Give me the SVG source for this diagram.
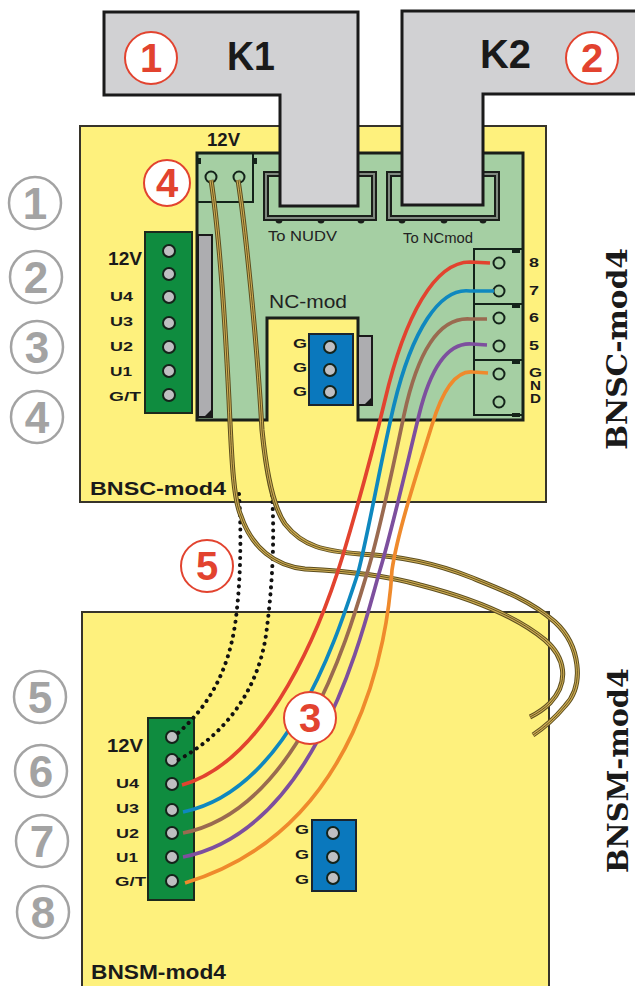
<svg xmlns="http://www.w3.org/2000/svg" width="635" height="986" viewBox="0 0 635 986">
<style>
text{font-family:"Liberation Sans",Arial,sans-serif;font-weight:700;fill:#1a1a1a}
.board{fill:#fef17d;stroke:#37342a;stroke-width:2}
.pcb{fill:#a5cfa3;stroke:#1a1f1a;stroke-width:3}
.bar{fill:#0f8c3f;stroke:#1c2a1c;stroke-width:2}
.blue{fill:#0a78bd;stroke:#1a2530;stroke-width:2}
.hole{fill:#bfbfc2;stroke:#14231a;stroke-width:2}
.term{fill:none;stroke:#14231a;stroke-width:2}
.gbar{fill:#adadb0;stroke:#1a1a1a;stroke-width:2}
.key{fill:#d1d1d3;stroke:#1a1a1a;stroke-width:3}
.hdr{fill:#a5cfa3;stroke:#1a1f1a;stroke-width:6}
.hdr2{fill:none;stroke:#808a80;stroke-width:2}
.lbl{font-size:12px}
.thin{font-weight:400;fill:#222}
.rc{fill:#fff;stroke:#e2432f;stroke-width:2}
.rt{fill:#e2432f;font-size:40px;text-anchor:middle}
.gc{fill:#fff;stroke:#a3a3a3;stroke-width:2.5}
.gt{fill:#a3a3a3;font-size:44px;text-anchor:middle}
.w{fill:none;stroke-width:3.7;stroke-linecap:butt}
.t1{fill:none;stroke:#5c4d1e;stroke-width:5}
.t2{fill:none;stroke:#cfae55;stroke-width:3}
.t3{fill:none;stroke:#4a3c14;stroke-width:.8}
.dot{fill:none;stroke:#111;stroke-width:4;stroke-linecap:round;stroke-dasharray:.1 7}
.side{font-family:"DejaVu Serif",serif;font-size:28px}
</style>
<defs>
<path id="tw1" d="M211 180C218 225 224 300 229 400C232 470 234 500 241 516C252 548 275 566 305 569C345 571 385 575 420 585C470 598 515 615 545 640C565 657 570 682 550 703C545 708 538 713 530 717"/>
<path id="tw2" d="M238 180C245 225 257 340 262 430C266 470 272 505 285 524C303 547 325 551 360 554C400 556 435 563 470 577C500 589 530 600 555 622C580 645 585 685 565 706C555 718 545 727 533 735"/>
</defs>
<rect width="635" height="986" fill="#fff"/>
<g id="board-top"><rect class="board" x="80" y="126" width="466" height="376"/></g>
<g id="board-bottom"><rect class="board" x="82" y="612" width="467" height="376"/></g>
<g id="pcb"><path class="pcb" d="M197 153H523V420H358V318H267V420H197Z"/></g>
<g id="bar-left"><rect class="gbar" x="198" y="235" width="14" height="182"/><path d="M204 417L211 410V417Z" fill="#1a1a1a"/></g>
<g id="bar-nc"><rect class="gbar" x="358" y="336" width="14" height="69"/><path d="M364 405L371 398V405Z" fill="#1a1a1a"/></g>
<g id="conn-12v">
<rect class="term" x="197" y="153" width="56" height="49" stroke-width="3"/>
<rect x="197" y="158" width="4" height="6" fill="#14231a"/><rect x="253" y="158" width="4" height="6" fill="#14231a"/>
<circle class="term" cx="211" cy="177" r="5.5"/><circle class="term" cx="239" cy="177" r="5.5"/>
<text x="207" y="146" font-size="18" textLength="33" lengthAdjust="spacingAndGlyphs">12V</text>
</g>
<g id="hdr-nudv">
<g fill="#1a1f1a"><circle cx="279" cy="220" r="3.5"/><circle cx="321" cy="220" r="3.5"/><circle cx="361" cy="220" r="3.5"/></g>
<rect class="hdr" x="266" y="174" width="108" height="44"/><rect class="hdr2" x="266" y="174" width="108" height="44"/>
<text class="thin" x="268" y="241" font-size="14" textLength="69" lengthAdjust="spacingAndGlyphs">To NUDV</text>
</g>
<g id="hdr-ncmod">
<g fill="#1a1f1a"><circle cx="402" cy="220" r="3.5"/><circle cx="444" cy="220" r="3.5"/><circle cx="483" cy="220" r="3.5"/></g>
<rect class="hdr" x="389" y="174" width="108" height="44"/><rect class="hdr2" x="389" y="174" width="108" height="44"/>
<text class="thin" x="403" y="243" font-size="14" textLength="70" lengthAdjust="spacingAndGlyphs">To NCmod</text>
</g>
<g id="key-k1"><path class="key" d="M104 12H358V206H280V95H104Z"/><text x="227" y="70" font-size="41" textLength="48" lengthAdjust="spacingAndGlyphs">K1</text></g>
<g id="key-k2"><path class="key" d="M635 11H402V205H483V94H635"/><text x="480" y="68" font-size="41" textLength="51" lengthAdjust="spacingAndGlyphs">K2</text></g>
<g id="terminals">
<rect class="term" x="474" y="249" width="49" height="166"/><path class="term" d="M474 304H523M474 360H523"/>
<g fill="#14231a"><rect x="512" y="249" width="8" height="4"/><rect x="512" y="304" width="8" height="4"/><rect x="512" y="360" width="8" height="4"/><rect x="512" y="413" width="8" height="4"/></g>
<circle class="term" cx="499" cy="263" r="5.5"/><circle class="term" cx="499" cy="291" r="5.5"/><circle class="term" cx="499" cy="318" r="5.5"/><circle class="term" cx="499" cy="346" r="5.5"/><circle class="term" cx="499" cy="374" r="5.5"/><circle class="term" cx="499" cy="402" r="5.5"/>
<g class="lbl" font-size="11">
<text x="529" y="267" textLength="10" lengthAdjust="spacingAndGlyphs">8</text>
<text x="529" y="295" textLength="10" lengthAdjust="spacingAndGlyphs">7</text>
<text x="529" y="322" textLength="10" lengthAdjust="spacingAndGlyphs">6</text>
<text x="529" y="350" textLength="10" lengthAdjust="spacingAndGlyphs">5</text>
<text x="529" y="377" textLength="13" lengthAdjust="spacingAndGlyphs">G</text>
<text x="530" y="390" textLength="11" lengthAdjust="spacingAndGlyphs">N</text>
<text x="530" y="403" textLength="11" lengthAdjust="spacingAndGlyphs">D</text>
</g>
</g>
<g id="strip-top">
<rect class="bar" x="145" y="232" width="47" height="181"/>
<circle class="hole" cx="169" cy="251" r="6"/><circle class="hole" cx="169" cy="274" r="6"/><circle class="hole" cx="169" cy="297" r="6"/><circle class="hole" cx="169" cy="323" r="6"/><circle class="hole" cx="169" cy="347" r="6"/><circle class="hole" cx="169" cy="371" r="6"/><circle class="hole" cx="169" cy="395" r="6"/>
<text x="108" y="265" font-size="18" textLength="34" lengthAdjust="spacingAndGlyphs">12V</text>
<text class="lbl" x="110" y="301" textLength="23" lengthAdjust="spacingAndGlyphs">U4</text>
<text class="lbl" x="110" y="326" textLength="23" lengthAdjust="spacingAndGlyphs">U3</text>
<text class="lbl" x="110" y="351" textLength="23" lengthAdjust="spacingAndGlyphs">U2</text>
<text class="lbl" x="110" y="376" textLength="22" lengthAdjust="spacingAndGlyphs">U1</text>
<text class="lbl" x="109" y="401" textLength="32" lengthAdjust="spacingAndGlyphs">G/T</text>
</g>
<g id="ncmod-top">
<text class="thin" x="269" y="308" font-size="18" textLength="78" lengthAdjust="spacingAndGlyphs">NC-mod</text>
<rect class="blue" x="309" y="334" width="44" height="71"/>
<circle class="hole" cx="330" cy="347" r="6"/><circle class="hole" cx="330" cy="370" r="6"/><circle class="hole" cx="330" cy="392" r="6"/>
<text class="lbl" x="293" y="348" textLength="14" lengthAdjust="spacingAndGlyphs">G</text>
<text class="lbl" x="293" y="372" textLength="14" lengthAdjust="spacingAndGlyphs">G</text>
<text class="lbl" x="293" y="396" textLength="14" lengthAdjust="spacingAndGlyphs">G</text>
</g>
<g id="strip-bottom">
<rect class="bar" x="148" y="718" width="46" height="182"/>
<circle class="hole" cx="172" cy="737" r="6"/><circle class="hole" cx="172" cy="760" r="6"/><circle class="hole" cx="172" cy="784" r="6"/><circle class="hole" cx="172" cy="810" r="6"/><circle class="hole" cx="172" cy="833" r="6"/><circle class="hole" cx="172" cy="857" r="6"/><circle class="hole" cx="172" cy="881" r="6"/>
<text x="107" y="752" font-size="19" textLength="36" lengthAdjust="spacingAndGlyphs">12V</text>
<text class="lbl" x="116" y="788" textLength="23" lengthAdjust="spacingAndGlyphs">U4</text>
<text class="lbl" x="116" y="813" textLength="23" lengthAdjust="spacingAndGlyphs">U3</text>
<text class="lbl" x="116" y="838" textLength="23" lengthAdjust="spacingAndGlyphs">U2</text>
<text class="lbl" x="116" y="862" textLength="22" lengthAdjust="spacingAndGlyphs">U1</text>
<text class="lbl" x="115" y="886" textLength="31" lengthAdjust="spacingAndGlyphs">G/T</text>
</g>
<g id="ncmod-bottom">
<rect class="blue" x="312" y="820" width="44" height="71"/>
<circle class="hole" cx="333" cy="833" r="6"/><circle class="hole" cx="333" cy="857" r="6"/><circle class="hole" cx="333" cy="878" r="6"/>
<text class="lbl" x="295" y="834" textLength="14" lengthAdjust="spacingAndGlyphs">G</text>
<text class="lbl" x="295" y="859" textLength="14" lengthAdjust="spacingAndGlyphs">G</text>
<text class="lbl" x="295" y="884" textLength="14" lengthAdjust="spacingAndGlyphs">G</text>
</g>
<g id="board-labels">
<text x="90" y="495" font-size="19" textLength="136" lengthAdjust="spacingAndGlyphs">BNSC-mod4</text>
<text x="91" y="979" font-size="20" textLength="135" lengthAdjust="spacingAndGlyphs">BNSM-mod4</text>
<text class="side" transform="translate(627 450) rotate(-90)" textLength="202" lengthAdjust="spacingAndGlyphs">BNSC-mod4</text>
<text class="side" transform="translate(628 873) rotate(-90)" textLength="205" lengthAdjust="spacingAndGlyphs">BNSM-mod4</text>
</g>
<g id="connectors">
<path class="dot" d="M239 494C242 540 240 590 235 625C228 670 210 705 178 733"/>
<path class="dot" d="M272 495C275 540 272 590 266 635C258 690 225 735 178 760"/>
<use href="#tw1" class="t1"/><use href="#tw1" class="t2"/><use href="#tw1" class="t3"/>
<use href="#tw2" class="t1"/><use href="#tw2" class="t2"/><use href="#tw2" class="t3"/>
<path class="w" stroke="#e2432f" d="M490 263L470 262C435 262 405 315 385 400C373 450 355 515 343 555C323 621 270 760 182 785"/>
<path class="w" stroke="#0f88bf" d="M494 291L470 291C440 287 412 330 394 405C382 455 368 535 358 573C338 633 290 790 183 812"/>
<path class="w" stroke="#9a6a50" d="M487 319L470 319C440 317 418 350 404 415C395 458 380 530 368 570C350 630 300 810 183 833"/>
<path class="w" stroke="#7d4f9e" d="M487 345L472 344C447 342 430 370 419 415C408 460 392 530 380 570C365 620 320 830 183 857"/>
<path class="w" stroke="#ef8a2c" d="M488 373L473 372C455 370 442 392 432 425C418 470 398 530 392 570C388 640 360 830 185 883"/>
</g>
<g id="badge-r1"><circle class="rc" cx="151" cy="58" r="26"/><text class="rt" x="151" y="72">1</text></g>
<g id="badge-r2"><circle class="rc" cx="592" cy="58" r="26"/><text class="rt" x="592" y="72">2</text></g>
<g id="badge-r4"><circle class="rc" cx="167" cy="183" r="23"/><text class="rt" x="167" y="197">4</text></g>
<g id="badge-r5"><circle class="rc" cx="207" cy="566" r="26"/><text class="rt" x="207" y="580">5</text></g>
<g id="badge-r3"><circle class="rc" cx="310" cy="718" r="26"/><text class="rt" x="310" y="732">3</text></g>
<g id="badge-g1"><circle class="gc" cx="35" cy="203" r="26"/><text class="gt" x="35" y="219">1</text></g>
<g id="badge-g2"><circle class="gc" cx="36" cy="277" r="26"/><text class="gt" x="36" y="293">2</text></g>
<g id="badge-g3"><circle class="gc" cx="37" cy="347" r="26"/><text class="gt" x="37" y="363">3</text></g>
<g id="badge-g4"><circle class="gc" cx="37" cy="417" r="26"/><text class="gt" x="37" y="433">4</text></g>
<g id="badge-g5"><circle class="gc" cx="40" cy="697" r="26"/><text class="gt" x="40" y="713">5</text></g>
<g id="badge-g6"><circle class="gc" cx="41" cy="771" r="26"/><text class="gt" x="41" y="787">6</text></g>
<g id="badge-g7"><circle class="gc" cx="42" cy="841" r="26"/><text class="gt" x="42" y="857">7</text></g>
<g id="badge-g8"><circle class="gc" cx="43" cy="912" r="26"/><text class="gt" x="43" y="928">8</text></g>
</svg>
